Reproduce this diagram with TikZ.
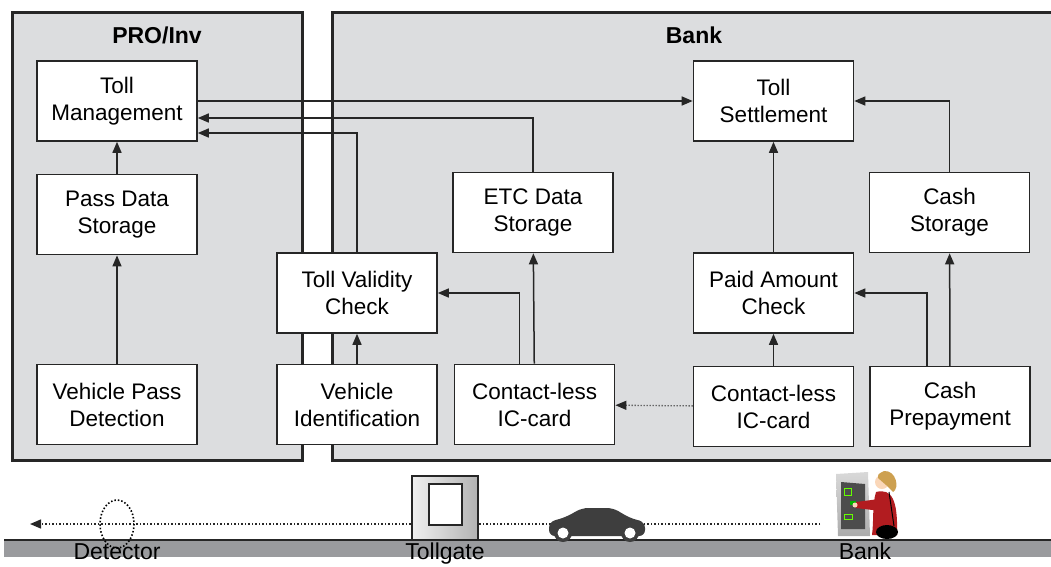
\documentclass[tikz,border=0pt]{standalone}
\usepackage{fontspec}
\setmainfont{Liberation Sans}
\usetikzlibrary{arrows.meta,positioning,shapes.geometric}

\definecolor{panelgray}{RGB}{220,221,223}
\definecolor{roadgray}{RGB}{154,155,158}
\definecolor{cardark}{RGB}{62,62,62}
\definecolor{jacketred}{RGB}{178,28,32}
\definecolor{hairblond}{RGB}{205,160,80}
\definecolor{skintone}{RGB}{250,215,185}

\begin{document}
\begin{tikzpicture}[x=1pt,y=-1pt,
  box/.style={rectangle, draw=black!85, line width=1.6pt, fill=white, minimum width=160pt, minimum height=80pt, inner sep=0pt, align=center, font=\fontsize{22.5}{27}\selectfont},
  flow/.style={-{Triangle[length=11pt,width=9pt]}, line width=1.5pt, draw=black!85},
  panel/.style={draw=black!85, line width=3pt, fill=panelgray},
  title/.style={font=\fontsize{23}{27}\selectfont\bfseries, anchor=base},
  place/.style={font=\fontsize{23}{27}\selectfont, anchor=base}]
\useasboundingbox (0,0) rectangle (1051,566);

% the two domains
\draw[panel] (12,12) rectangle (302,460);
\draw[panel] (332,12) rectangle (1062,460);
\node[title] (proinv) at (157,43) {PRO/Inv};
\node[title] (bank) at (694,43) {Bank};

% functions
\node[box] (tm) at (117,101) {Toll\\Management};
\node[box, below=32pt of tm] (pds) {Pass Data\\Storage};
\node[box] (vpd) at (117,404.5) {Vehicle Pass\\Detection};
\node[box] (tvc) at (357,293) {Toll Validity\\Check};
\node[box] (vid) at (357,404.5) {Vehicle\\Identification};
\node[box, right=16pt of vid] (icetc) {Contact-less\\IC-card};
\node[box] (etc) at (533,212.5) {ETC Data\\Storage};
\node[box] (ts) at (773.5,101) {Toll\\Settlement};
\node[box] (pac) at (773.5,293) {Paid Amount\\Check};
\node[box, below=32pt of pac] (icbank) {Contact-less\\IC-card};
\node[box, right=15pt of icbank] (cp) {Cash\\Prepayment};
\node[box] (cs) at (949.5,212.5) {Cash\\Storage};

% data flows
\draw[flow] (tm) -- (ts);
\draw[flow] (etc.north) |- ([yshift=-17pt]tm.east);
\draw[flow] (tvc.north) |- ([yshift=-32pt]tm.east);
\draw[flow] (pds) -- (tm);
\draw[flow] (vpd) -- (pds);
\draw[flow] (vid) -- (tvc);
\draw[flow] ([xshift=-15pt]icetc.north) |- (tvc.east);
\draw[flow] (icetc) -- (etc);
\draw[flow, line width=1.3pt, dash pattern=on 1.2pt off 1.8pt] (icbank) -- (icetc);
\draw[flow] (pac) -- (ts);
\draw[flow] (cs.north) |- (ts.east);
\draw[flow] (icbank) -- (pac);
\draw[flow] ([xshift=-23pt]cp.north) |- (pac.east);
\draw[flow] (cp) -- (cs);

% road with the car's path
\fill[roadgray] (4,540) rectangle (1060,557);
\draw[line width=2pt, black!85] (4,540) -- (1060,540);
\coordinate (roadend) at (30,524);
\coordinate (atmside) at (820,524);
\draw[flow, line width=1.4pt, dash pattern=on 1.5pt off 2pt] (atmside) -- (roadend);

% detector loop
\draw[line width=1.6pt, dash pattern=on 1.5pt off 2pt] (117,524) ellipse [x radius=17, y radius=24];

% tollgate
\shade[left color=gray!12, middle color=gray!15, right color=gray!60] (412,476) rectangle (478,540);
\draw[line width=1.5pt, black!85] (412,476) rectangle (478,540);
\draw[line width=1.5pt, black!85, fill=white] (429,484) rectangle (462,525);

% car
\fill[cardark, rounded corners=6pt] (549,536) -- (549,522) -- (566,517) -- (582,508) -- (613,508) -- (630,518) -- (645,522) -- (645,536) -- cycle;
\foreach \wx in {563,630} {
  \fill[cardark] (\wx,533) circle [radius=9];
  \fill[white] (\wx,533) circle [radius=5.5];
}

% cash machine and customer
\shade[top color=gray!30, bottom color=gray!65] (836,474) -- (868,472) -- (870,536) -- (838,536) -- cycle;
\fill[black!70] (841,482) -- (865,484) -- (865,529) -- (841,529) -- cycle;
\draw[green!60!yellow, line width=0.8pt] (844,488) rectangle (851,495);
\draw[green!60!yellow, line width=0.8pt] (844,514) rectangle (852,519);
\fill[jacketred] (876,492) .. controls (892,488) and (898,500) .. (897,535) -- (872,535) .. controls (874,520) and (872,505) .. (876,492) -- cycle;
\fill[jacketred] (879,499) -- (856,502) -- (856,508) -- (881,511) -- cycle;
\fill[green!70!black] (850,501) rectangle (856,505);
\fill[skintone] (855,505) circle [radius=2.5];
\fill[skintone] (882,482) circle [radius=7];
\fill[hairblond] (884,471) .. controls (896,470) and (900,488) .. (893,492) -- (886,485) -- (878,478) .. controls (878,474) .. (884,471) -- cycle;
\draw[black, line width=1pt] (889,492) -- (894,526);
\fill[black] (887,532) ellipse [x radius=11, y radius=7];

% place names
\node[place] (detlbl) at (117,559) {Detector};
\node[place] (gatelbl) at (445,559) {Tollgate};
\node[place] (banklbl) at (865,559) {Bank};
\end{tikzpicture}
\end{document}
